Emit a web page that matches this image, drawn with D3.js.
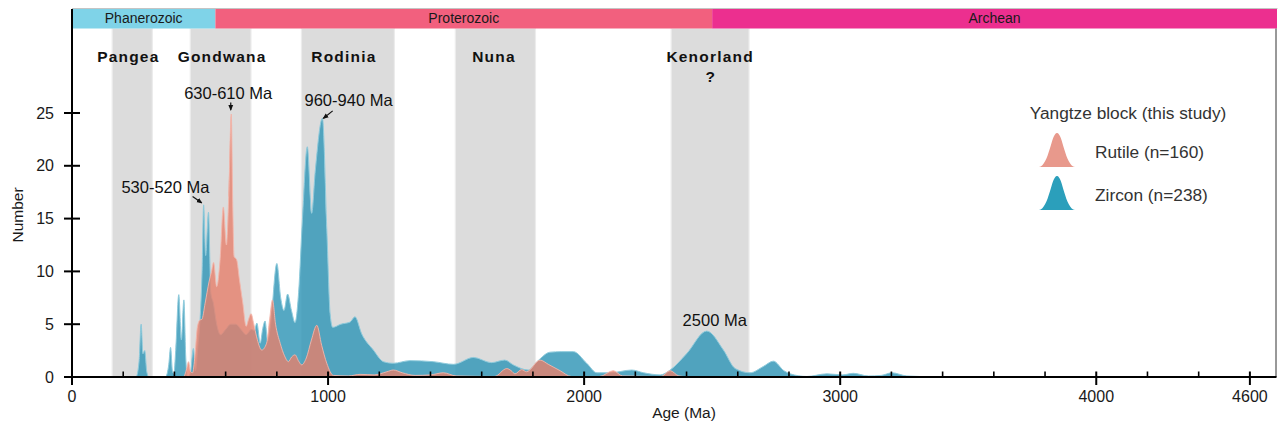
<!DOCTYPE html>
<html>
<head>
<meta charset="utf-8">
<script src="https://cdn.jsdelivr.net/npm/d3@7"></script>
<style>
  html, body { margin: 0; padding: 0; background: #fff; }
  svg { display: block; font-family: "Liberation Sans", Arial, sans-serif; }
</style>
</head>
<body>
<svg id="chart" width="1279" height="427"></svg>
<script>
// Age spectra (Ma) — probability curves for detrital rutile and zircon
const zirconCurve = [
  [0,0],[250,0],[262,1.5],[270,5.0],[277,2.2],[284,2.5],[292,0.5],[300,0],
  [365,0],[378,1.2],[385,2.8],[392,0.6],[398,0.3],[405,2.5],[417,7.8],[427,3.5],[437,7.3],[444,2.0],[450,0],
  [462,0.3],[474,2.7],[482,0.6],[492,3.0],[500,5.4],[508,10],[514,16.3],[522,11.5],[533,15.6],[542,8],
  [552,7],[565,5],[580,4],[600,4.5],[620,5],[640,5],[660,4.5],[680,4],[700,4.5],[712,4.4],
  [722,5.1],[735,3.2],[745,4.6],[754,5.3],[764,3.4],[775,4.8],[800,10.75],[815,7.5],[828,6.3],[842,7.85],
  [857,6.3],[871,5.15],[885,8],[900,15],[919,21.8],[936,15.5],[950,19.5],[978,24.5],[995,14],[1008,6],
  [1018,4.7],[1050,5.0],[1086,5.2],[1105,5.7],[1131,4.1],[1177,2.55],[1216,1.45],[1255,1.3],[1320,1.55],
  [1411,1.45],[1490,1.2],[1568,1.85],[1638,1.36],[1690,1.6],[1724,1.14],[1782,0.66],[1818,1.5],[1867,2.35],
  [1910,2.4],[1958,2.4],[2010,1.3],[2050,0.4],[2103,0.4],[2186,0.66],[2232,0.4],[2297,0.2],[2336,0.66],
  [2400,2.2],[2479,4.35],[2544,2.55],[2590,0.8],[2648,0.4],[2700,1.0],[2739,1.5],[2780,0.6],[2805,0.3],
  [2870,0.05],[2948,0.3],[3010,0.2],[3051,0.35],[3110,0.1],[3160,0.15],[3202,0.4],[3260,0.1],[3400,0],[4700,0]
];

const rutileCurve = [
  [0,0],[435,0],[448,0.8],[455,1.45],[463,0.5],[471,0.4],[480,2],[490,4.8],[500,5.4],[507,5.45],
  [520,7],[535,9],[545,10],[553,10.85],[565,8.55],[578,11],[591,16.1],[603,12.5],[612,17],[622,24.9],
  [628,16],[633,11.4],[643,11.1],[654,9.2],[667,7.0],[680,4.8],[690,5.5],[699,6.0],[710,5.0],[721,3.8],
  [741,2.55],[760,3.2],[772,5.5],[783,7.3],[795,5],[813,3.2],[830,2],[845,1.45],[858,1.9],[871,2.1],
  [885,1.5],[897,1.15],[915,1.8],[935,3.5],[956,4.9],[975,3],[995,1.3],[1021,0.15],[1080,0.1],[1125,0.25],
  [1180,0.2],[1230,0.5],[1255,0.66],[1290,0.4],[1340,0.15],[1400,0.2],[1450,0.4],[1500,0.1],[1650,0.05],
  [1698,0.8],[1715,0.6],[1730,0.3],[1756,0.7],[1775,0.5],[1828,1.6],[1860,1.2],[1906,0.6],[1950,0.05],
  [2060,0.05],[2114,0.6],[2150,0.1],[2300,0.05],[2336,0.6],[2370,0.1],[2420,0],[4700,0]
];

// Geological eons along the top strip
const eonNames  = ["Phanerozoic", "Proterozoic", "Archean"];
const eonStart  = [0, 560, 2500];
const eonEnd    = [560, 2500, 4700];
const eonColors = ["#7fd3e8", "#f2607e", "#ec2f8f"];

// Supercontinent assembly windows
const superNames = ["Pangea", "Gondwana", "Rodinia", "Nuna", "Kenorland"];
const superStart = [157, 462, 896, 1497, 2340];
const superEnd   = [314, 699, 1259, 1810, 2644];
const superLabelAge = [220, 586, 1062, 1648, 2492];

// Peak annotations: label text, label position (age, count), arrow from/to (age, count)
const peakLabels  = ["630-610 Ma", "960-940 Ma", "530-520 Ma", "2500 Ma"];
const peakLabelAt = [[610, 26.9], [1080, 26.2], [365, 18.0], [2510, 5.4]];
const peakArrows  = [[[620, 26.0], [620, 25.3]], [[1018, 25.2], [982, 24.5]], [[471, 17.1], [506, 16.5]], null];

// Axis ticks
const xMajorTicks = [0, 1000, 2000, 3000, 4000, 4600];
const xMinorTicks = [200,400,600,800,1200,1400,1600,1800,2200,2400,2600,2800,3200,3400,3600,3800,4200,4400];
const yTicks = [0, 5, 10, 15, 20, 25];

const legendTitle = "Yangtze block (this study)";
const legendLabels = ["Rutile (n=160)", "Zircon (n=238)"];
const legendColors = ["#e8998c", "#2b9fbb"];

const svg = d3.select("#chart");
const plot = { left: 72, right: 1275.5, top: 28.5, bottom: 377 };

const x = d3.scaleLinear().domain([0, 4700]).range([plot.left, plot.right]);
const y = d3.scaleLinear().domain([0, 33]).range([plot.bottom, plot.top]);

// Supercontinent bands
const bands = svg.append("g");
superNames.forEach((n, i) => {
  bands.append("rect")
    .attr("x", x(superStart[i])).attr("y", plot.top)
    .attr("width", x(superEnd[i]) - x(superStart[i]))
    .attr("height", plot.bottom - plot.top)
    .attr("fill", "#dcdcdc")
    .attr("stroke", "#ececec").attr("stroke-width", 1.2);
});

// Density areas
const area = d3.area()
  .x(d => x(d[0])).y0(y(0)).y1(d => y(d[1]))
  .curve(d3.curveMonotoneX);

svg.append("path").datum(zirconCurve)
  .attr("d", area)
  .attr("fill", "#3799b8").attr("fill-opacity", 0.85)
  .attr("stroke", "#8fcbdc").attr("stroke-width", 1);

svg.append("path").datum(rutileCurve)
  .attr("d", area)
  .attr("fill", "#e6806c").attr("fill-opacity", 0.8)
  .attr("stroke", "#f3b7ab").attr("stroke-width", 0.9);

// Eon strip
const eons = svg.append("g");
eons.append("line")
  .attr("x1", plot.left).attr("x2", plot.right + 2)
  .attr("y1", 8.5).attr("y2", 8.5)
  .attr("stroke", "#c4c4c4").attr("stroke-width", 1);
eonNames.forEach((n, i) => {
  const x1 = i === 2 ? plot.right + 1.5 : x(eonEnd[i]);
  eons.append("rect")
    .attr("x", x(eonStart[i])).attr("y", 9)
    .attr("width", x1 - x(eonStart[i]))
    .attr("height", 19.5)
    .attr("fill", eonColors[i]);
  eons.append("text")
    .attr("x", (x(eonStart[i]) + x1) / 2)
    .attr("y", 18.5)
    .attr("dy", "0.35em")
    .attr("text-anchor", "middle")
    .attr("font-size", 14)
    .attr("fill", "#1a1a1a")
    .text(n);
});

// Supercontinent names
superNames.forEach((n, i) => {
  svg.append("text")
    .attr("x", x(superLabelAge[i])).attr("y", 56.5)
    .attr("dy", "0.35em")
    .attr("text-anchor", "middle")
    .attr("font-size", 15.5).attr("font-weight", "bold")
    .attr("letter-spacing", 1.2)
    .attr("fill", "#111")
    .text(n);
});
svg.append("text")
  .attr("x", x(superLabelAge[4])).attr("y", 76.5)
  .attr("dy", "0.35em").attr("text-anchor", "middle")
  .attr("font-size", 15.5).attr("font-weight", "bold")
  .attr("fill", "#111").text("?");

// Right frame line
svg.append("line")
  .attr("x1", plot.right + 0.5).attr("x2", plot.right + 0.5)
  .attr("y1", plot.top).attr("y2", plot.bottom)
  .attr("stroke", "#333").attr("stroke-width", 1);

// Y axis
const yAxis = svg.append("g");
yAxis.append("line")
  .attr("x1", plot.left).attr("x2", plot.left)
  .attr("y1", 9).attr("y2", plot.bottom + 1)
  .attr("stroke", "#000").attr("stroke-width", 2);
yTicks.forEach(t => {
  yAxis.append("line")
    .attr("x1", plot.left - 8).attr("x2", plot.left + 8)
    .attr("y1", y(t)).attr("y2", y(t))
    .attr("stroke", "#000").attr("stroke-width", 2);
  yAxis.append("text")
    .attr("x", 54).attr("y", y(t))
    .attr("dy", "0.35em").attr("text-anchor", "end")
    .attr("font-size", 16).attr("fill", "#1a1a1a")
    .text(t);
});
svg.append("text")
  .attr("transform", "translate(18,215) rotate(-90)")
  .attr("text-anchor", "middle").attr("dy", "0.35em")
  .attr("font-size", 15.5).attr("fill", "#1a1a1a")
  .text("Number");

// X axis
const xAxis = svg.append("g");
xAxis.append("line")
  .attr("x1", plot.left - 8).attr("x2", plot.right + 1)
  .attr("y1", plot.bottom).attr("y2", plot.bottom)
  .attr("stroke", "#000").attr("stroke-width", 2.2);
xMinorTicks.forEach(t => {
  xAxis.append("line")
    .attr("x1", x(t)).attr("x2", x(t))
    .attr("y1", plot.bottom - 5.5).attr("y2", plot.bottom)
    .attr("stroke", "#000").attr("stroke-width", 1.6);
});
xMajorTicks.forEach(t => {
  xAxis.append("line")
    .attr("x1", x(t)).attr("x2", x(t))
    .attr("y1", plot.bottom - 5.5).attr("y2", plot.bottom + 8)
    .attr("stroke", "#000").attr("stroke-width", 2);
  xAxis.append("text")
    .attr("x", x(t)).attr("y", 396)
    .attr("dy", "0.35em").attr("text-anchor", "middle")
    .attr("font-size", 16).attr("fill", "#1a1a1a")
    .text(t);
});
svg.append("text")
  .attr("x", 684).attr("y", 413)
  .attr("dy", "0.35em").attr("text-anchor", "middle")
  .attr("font-size", 15.5).attr("fill", "#1a1a1a")
  .text("Age (Ma)");

// Peak annotations with arrows
const defs = svg.append("defs");
defs.append("marker")
  .attr("id", "arrowhead")
  .attr("viewBox", "0 0 10 10").attr("refX", 8).attr("refY", 5)
  .attr("markerWidth", 5).attr("markerHeight", 5)
  .attr("orient", "auto")
  .append("path").attr("d", "M0,1 L10,5 L0,9 Z").attr("fill", "#111");

peakLabels.forEach((t, i) => {
  svg.append("text")
    .attr("x", x(peakLabelAt[i][0])).attr("y", y(peakLabelAt[i][1]))
    .attr("dy", "0.35em").attr("text-anchor", "middle")
    .attr("font-size", 16.5).attr("fill", "#111")
    .text(t);
  const a = peakArrows[i];
  if (a) {
    svg.append("line")
      .attr("x1", x(a[0][0])).attr("y1", y(a[0][1]))
      .attr("x2", x(a[1][0])).attr("y2", y(a[1][1]))
      .attr("stroke", "#111").attr("stroke-width", 1.2)
      .attr("marker-end", "url(#arrowhead)");
  }
});

// Legend
const legend = svg.append("g");
legend.append("text")
  .attr("x", 1128).attr("y", 113)
  .attr("dy", "0.35em").attr("text-anchor", "middle")
  .attr("font-size", 17.3).attr("fill", "#333")
  .text(legendTitle);

function bellPath(x0, yBase, w, h) {
  const yt = yBase - h;
  return `M${x0},${yBase}` +
    `C${x0 + w * 0.28},${yBase - h * 0.04} ${x0 + w * 0.34},${yt} ${x0 + w * 0.5},${yt}` +
    `C${x0 + w * 0.66},${yt} ${x0 + w * 0.72},${yBase - h * 0.04} ${x0 + w},${yBase}Z`;
}
const legendY = [167, 210];
legendLabels.forEach((lab, i) => {
  legend.append("path")
    .attr("d", bellPath(1039, legendY[i], 36, 34))
    .attr("fill", legendColors[i]);
  legend.append("text")
    .attr("x", 1095).attr("y", legendY[i] - 15.5)
    .attr("dy", "0.35em")
    .attr("font-size", 17.3).attr("fill", "#333")
    .text(lab);
});
</script>
</body>
</html>
